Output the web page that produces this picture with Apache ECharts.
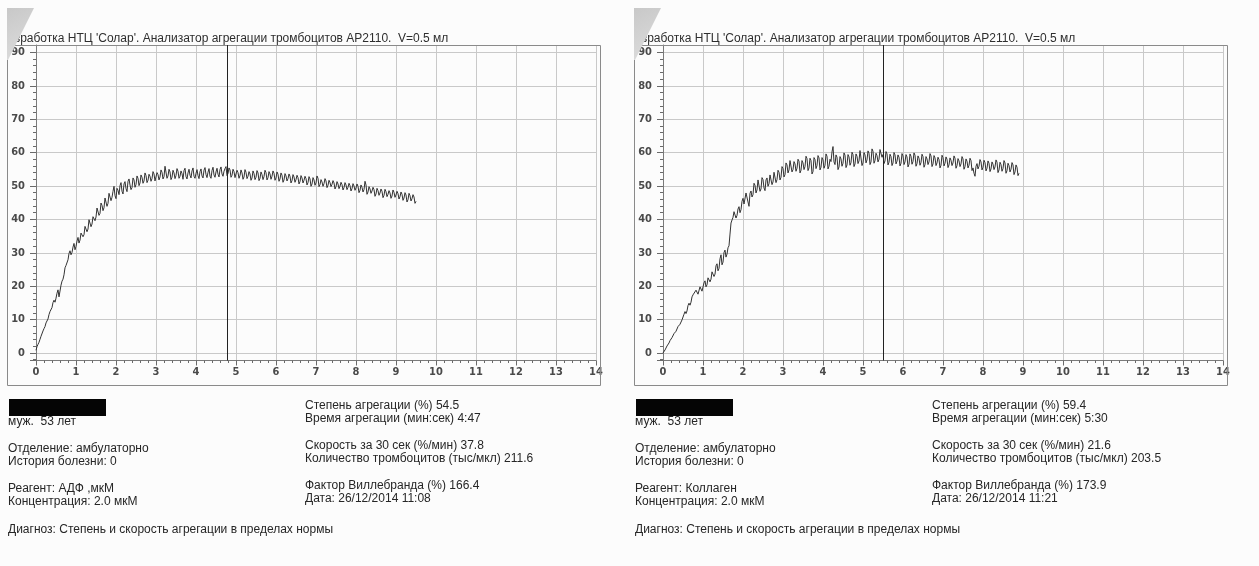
<!DOCTYPE html>
<html>
<head>
<meta charset="utf-8">
<title>Агрегация тромбоцитов AP2110</title>
<script src="https://cdn.jsdelivr.net/npm/echarts@6/dist/echarts.min.js"></script>
<style>
  html, body { margin: 0; padding: 0; background: #fcfcfc; }
  #chart { width: 1259px; height: 566px; }
</style>
</head>
<body>
<div id="chart"></div>
<script>
// Recorder sampling interval, minutes
const SAMPLE_STEP_MIN = 0.025;

// Aggregation curve with ADP (%), one value per sample
const adpValues = [
  0.8, 1.9, 2.6, 3.2, 4.1, 5.0, 5.5, 6.6, 7.3, 7.9, 9.0, 9.4, 10.2, 11.5, 12.4, 12.8, 13.6, 15.1, 15.8, 15.2,
  16.4, 17.9, 18.9, 16.8, 17.2, 20.3, 21.5, 22.1, 23.4, 25.5, 26.2, 26.6, 27.9, 29.8, 30.6, 29.4, 30.1, 31.7, 32.8, 30.9,
  31.9, 33.5, 34.6, 32.9, 33.8, 35.9, 36.2, 34.8, 35.4, 37.9, 37.6, 36.3, 37.1, 39.9, 39.4, 37.8, 38.6, 40.8, 41.3, 39.6,
  40.7, 43.4, 42.9, 41.2, 41.8, 44.9, 44.2, 42.6, 43.5, 46.4, 45.9, 43.9, 44.8, 47.8, 47.3, 45.6, 46.6, 48.4, 49.9, 47.1,
  46.2, 49.3, 48.7, 47.4, 50.1, 51.0, 48.4, 47.6, 50.6, 51.3, 49.2, 48.3, 51.4, 52.1, 50.3, 48.9, 49.5, 52.4, 51.8, 49.6,
  50.4, 53.0, 52.3, 50.1, 50.9, 53.3, 52.6, 50.8, 51.5, 53.9, 53.1, 51.0, 51.7, 53.5, 52.9, 51.4, 52.2, 54.3, 53.6, 51.5,
  52.0, 54.0, 53.4, 51.8, 52.7, 54.8, 54.1, 52.1, 52.8, 55.9, 55.4, 52.3, 53.0, 55.0, 54.2, 51.9, 52.6, 54.7, 53.9, 52.2,
  53.1, 55.2, 54.4, 52.3, 52.9, 54.5, 53.7, 52.0, 54.6, 55.3, 52.8, 52.1, 53.9, 55.0, 53.2, 52.4, 54.5, 55.4, 52.9, 52.3,
  53.8, 54.9, 53.1, 52.2, 54.3, 55.1, 53.0, 52.4, 54.7, 55.5, 53.4, 52.5, 54.1, 55.2, 52.9, 52.3, 54.6, 55.6, 53.3, 52.6,
  54.2, 55.3, 53.5, 52.7, 54.9, 55.7, 53.6, 52.9, 54.4, 55.2, 55.8, 53.1, 53.7, 55.4, 54.8, 52.6, 53.2, 55.0, 54.3, 52.5,
  52.8, 54.7, 54.0, 52.3, 53.1, 54.8, 53.9, 52.0, 52.7, 54.9, 54.1, 52.2, 52.9, 54.3, 53.6, 51.7, 52.4, 54.5, 53.7, 51.9,
  52.6, 54.6, 53.9, 51.6, 52.3, 54.2, 53.4, 51.9, 52.8, 54.7, 54.0, 51.8, 52.5, 54.3, 53.6, 52.0, 52.9, 54.5, 53.8, 51.7,
  52.4, 54.2, 53.5, 51.4, 52.1, 53.9, 53.2, 51.1, 51.8, 53.7, 53.0, 51.5, 52.2, 53.6, 52.9, 50.9, 51.6, 53.4, 52.7, 51.1,
  51.9, 53.2, 52.5, 50.6, 51.3, 53.1, 52.4, 50.9, 51.7, 52.9, 52.2, 50.3, 51.0, 52.8, 52.1, 49.9, 50.6, 52.5, 51.8, 50.2,
  50.9, 53.0, 52.3, 49.8, 50.4, 51.9, 51.2, 49.9, 50.7, 52.2, 51.5, 49.5, 50.2, 51.7, 51.0, 49.8, 50.5, 51.6, 50.9, 49.1,
  49.8, 51.3, 50.6, 49.2, 49.9, 51.1, 50.4, 48.8, 49.5, 51.0, 50.3, 48.9, 49.6, 50.8, 50.1, 48.5, 49.2, 50.7, 50.0, 48.7,
  49.4, 50.6, 49.9, 48.0, 48.7, 50.3, 49.6, 48.2, 48.9, 51.4, 50.3, 47.5, 48.2, 49.8, 49.1, 47.8, 48.5, 49.6, 48.9, 46.9,
  47.6, 49.3, 48.6, 47.2, 47.9, 49.1, 48.4, 46.5, 47.2, 49.0, 48.3, 46.8, 47.5, 48.6, 47.9, 46.3, 47.0, 48.8, 48.1, 46.6,
  47.3, 48.4, 47.7, 46.1, 46.8, 48.2, 47.5, 45.7, 46.4, 48.0, 47.3, 45.2, 45.9, 47.8, 47.1, 45.5, 46.2, 47.4, 46.7, 44.8,
  45.4
];

// Aggregation curve with collagen (%), one value per sample
const collagenValues = [
  0.0, 0.5, 0.9, 1.4, 2.1, 2.5, 3.0, 3.7, 4.2, 4.6, 5.1, 5.8, 6.3, 6.5, 7.0, 7.9, 8.4, 8.6, 9.1, 9.9,
  10.3, 11.6, 12.4, 11.8, 12.6, 14.2, 14.9, 14.3, 15.2, 16.8, 17.4, 16.9, 17.8, 18.8, 19.3, 17.6, 18.1, 19.8, 20.2, 18.5,
  19.0, 21.0, 21.6, 19.8, 20.4, 22.5, 22.9, 21.3, 22.1, 24.3, 24.8, 22.9, 23.6, 26.1, 26.7, 24.6, 25.3, 28.2, 29.4, 26.4,
  27.2, 30.1, 30.8, 28.7, 29.6, 31.5, 32.1, 35.6, 38.9, 39.8, 40.6, 42.3, 41.9, 40.4, 41.2, 43.1, 43.8, 42.0, 42.9, 45.4,
  46.3, 44.6, 45.1, 47.9, 47.6, 45.2, 43.9, 47.8, 48.5, 46.7, 47.4, 50.8, 50.2, 47.9, 48.8, 51.8, 51.3, 48.4, 49.1, 52.5,
  51.9, 49.4, 48.6, 51.8, 52.4, 49.9, 50.7, 53.3, 52.8, 50.4, 51.2, 54.1, 53.6, 51.0, 51.9, 54.7, 54.1, 51.8, 52.6, 55.8,
  55.2, 52.7, 53.4, 56.9, 56.3, 53.9, 54.8, 57.6, 57.1, 54.2, 54.9, 57.3, 56.6, 54.4, 55.3, 58.0, 57.4, 53.9, 54.7, 57.6,
  56.9, 54.9, 55.8, 58.9, 58.2, 54.6, 55.4, 58.3, 57.6, 53.6, 54.3, 58.5, 57.9, 55.2, 56.1, 59.1, 58.4, 54.8, 55.6, 58.5,
  57.8, 55.3, 56.2, 59.6, 58.9, 55.1, 55.9, 58.0, 57.3, 60.2, 61.8, 57.2, 56.4, 59.3, 58.6, 54.9, 55.7, 58.8, 58.1, 55.9,
  56.8, 59.9, 59.2, 55.5, 56.3, 59.4, 58.7, 56.2, 57.0, 60.1, 59.4, 55.8, 56.6, 59.6, 58.9, 56.7, 57.5, 60.6, 60.1, 56.1,
  56.9, 60.0, 59.3, 56.9, 57.8, 60.5, 59.8, 56.4, 57.2, 61.1, 60.4, 56.8, 57.6, 59.8, 59.1, 57.2, 58.0, 60.9, 61.2, 58.6,
  59.4, 56.7, 57.5, 60.3, 59.6, 56.3, 57.1, 59.5, 58.8, 56.1, 56.9, 60.0, 59.3, 56.6, 57.4, 59.3, 58.6, 56.0, 56.8, 59.7,
  59.0, 56.4, 57.2, 59.4, 58.7, 55.7, 56.5, 59.6, 58.9, 56.5, 57.3, 59.9, 59.2, 55.9, 56.7, 59.0, 58.3, 56.2, 57.0, 59.5,
  58.8, 55.6, 56.4, 58.8, 58.1, 56.4, 57.2, 59.7, 59.0, 55.8, 56.6, 59.1, 58.4, 56.1, 56.9, 58.6, 57.9, 55.4, 56.2, 59.2,
  58.5, 56.0, 56.8, 58.7, 58.0, 55.5, 56.3, 58.4, 57.7, 56.1, 56.9, 59.0, 58.3, 55.3, 56.1, 58.2, 57.5, 55.8, 56.6, 58.8,
  58.1, 55.0, 55.8, 58.1, 57.4, 55.4, 56.2, 58.3, 57.6, 54.6, 55.4, 53.8, 52.9, 55.9, 56.7, 55.1, 55.9, 57.9, 57.2, 54.8,
  55.6, 57.7, 57.0, 54.5, 55.3, 57.5, 56.8, 54.3, 55.1, 57.2, 56.5, 54.9, 55.7, 57.8, 57.1, 54.0, 54.8, 57.1, 56.4, 54.4,
  55.2, 57.6, 56.9, 53.8, 54.6, 56.8, 56.1, 54.2, 55.0, 57.0, 56.3, 53.4, 54.2, 56.3, 55.6, 53.1, 53.8
];

// Aggregation time (мин:сек) marked by the vertical cursor
const adpMarkerTime = '4:47';
const collagenMarkerTime = '5:30';

const headerText = "Разработка НТЦ 'Солар'. Анализатор агрегации тромбоцитов АР2110.  V=0.5 мл";

// Patient / sample block, left column
const adpPatientLines = [
  'муж.  53 лет',
  'Отделение: амбулаторно',
  'История болезни: 0',
  'Реагент: АДФ ,мкМ',
  'Концентрация: 2.0 мкМ',
  'Диагноз: Степень и скорость агрегации в пределах нормы'
];
const collagenPatientLines = [
  'муж.  53 лет',
  'Отделение: амбулаторно',
  'История болезни: 0',
  'Реагент: Коллаген',
  'Концентрация: 2.0 мкМ',
  'Диагноз: Степень и скорость агрегации в пределах нормы'
];

// Results block, right column
const adpResultLines = [
  'Степень агрегации (%) 54.5',
  'Время агрегации (мин:сек) ' + adpMarkerTime,
  'Скорость за 30 сек (%/мин) 37.8',
  'Количество тромбоцитов (тыс/мкл) 211.6',
  'Фактор Виллебранда (%) 166.4',
  'Дата: 26/12/2014 11:08'
];
const collagenResultLines = [
  'Степень агрегации (%) 59.4',
  'Время агрегации (мин:сек) ' + collagenMarkerTime,
  'Скорость за 30 сек (%/мин) 21.6',
  'Количество тромбоцитов (тыс/мкл) 203.5',
  'Фактор Виллебранда (%) 173.9',
  'Дата: 26/12/2014 11:21'
];

// ---------------------------------------------------------------
const TEXT_FONT = '12px "Liberation Sans", Arial, sans-serif';
const AXIS_FONT_FAMILY = '"Liberation Sans Narrow", "DejaVu Sans Condensed", "Liberation Sans", sans-serif';
const TEXT_COLOR = '#262626';

function toPairs(values) {
  return values.map((v, i) => [Math.round(i * SAMPLE_STEP_MIN * 1000) / 1000, v]);
}
function mmssToMinutes(s) {
  const parts = s.split(':').map(Number);
  return parts[0] + parts[1] / 60;
}

const grids = [], xAxes = [], yAxes = [], series = [], graphics = [];

function addPanel(idx, ox, values, markerTime, patientLines, resultLines) {
  grids.push({ left: ox + 36, top: 45, width: 560, height: 315.5, containLabel: false });

  xAxes.push({
    type: 'value', gridIndex: idx, min: 0, max: 14, interval: 1,
    axisLine: { show: true, onZero: false, lineStyle: { color: '#7a7a7a', width: 1 } },
    axisTick: { show: true, length: 5, lineStyle: { color: '#6a6a6a' } },
    minorTick: { show: true, splitNumber: 5, length: 2.5, lineStyle: { color: '#6a6a6a' } },
    splitLine: { show: true, lineStyle: { color: '#c9c9c9', width: 1 } },
    axisLabel: {
      margin: 6, fontSize: 11, fontWeight: 'bold', color: '#4a4a4a',
      fontFamily: AXIS_FONT_FAMILY
    }
  });

  yAxes.push({
    type: 'value', gridIndex: idx, min: -2.25, max: 92.2,
    splitNumber: 9, minInterval: 10, maxInterval: 10,
    axisLine: { show: true, lineStyle: { color: '#7a7a7a', width: 1 } },
    axisTick: { show: true, length: 6, lineStyle: { color: '#6a6a6a' } },
    minorTick: { show: true, splitNumber: 5, length: 3, lineStyle: { color: '#6a6a6a' } },
    splitLine: { show: true, lineStyle: { color: '#c9c9c9', width: 1 } },
    axisLabel: {
      margin: 11, fontSize: 11, fontWeight: 'bold', color: '#4a4a4a',
      fontFamily: AXIS_FONT_FAMILY, showMinLabel: false, showMaxLabel: false,
      formatter: v => (Math.abs(v % 10) < 1e-6 ? String(Math.round(v)) : '')
    }
  });

  series.push({
    type: 'line', xAxisIndex: idx, yAxisIndex: idx,
    data: toPairs(values),
    showSymbol: false, symbol: 'none', smooth: false,
    lineStyle: { color: '#333333', width: 1 },
    silent: true, animation: false,
    markLine: {
      silent: true, symbol: ['none', 'none'], animation: false,
      label: { show: false },
      lineStyle: { color: '#222222', width: 1, type: 'solid' },
      data: [{ xAxis: mmssToMinutes(markerTime) }]
    }
  });

  // printout frame
  graphics.push({
    type: 'rect', z: 5,
    shape: { x: ox + 7.5, y: 45.5, width: 593, height: 340 },
    style: { fill: 'none', stroke: '#8a8a8a', lineWidth: 1 }
  });

  // header line above the frame
  graphics.push({
    type: 'text', z: 10, x: ox + 0.5, y: 39,
    style: { text: headerText, font: TEXT_FONT, fill: '#2e2e2e', verticalAlign: 'middle' }
  });

  // folded page corner covering the start of the header
  graphics.push({
    type: 'rect', z: 60,
    shape: { x: ox - 21, y: 26, width: 28, height: 19 },
    style: { fill: '#fcfcfc' }
  });
  graphics.push({
    type: 'polygon', z: 61,
    shape: { points: [[ox + 7, 8], [ox + 34, 8], [ox + 8, 60], [ox + 7, 60]] },
    style: {
      fill: {
        type: 'linear', x: 0, y: 0, x2: 1, y2: 1,
        colorStops: [{ offset: 0, color: '#c8c8c8' }, { offset: 1, color: '#dedede' }]
      }
    }
  });

  // name field (blacked out)
  graphics.push({
    type: 'rect', z: 10,
    shape: { x: ox + 9, y: 399, width: 97, height: 17 },
    style: { fill: '#050505' }
  });

  const leftYs = [422, 448.5, 462, 488.5, 502, 530];
  patientLines.forEach((t, i) => graphics.push({
    type: 'text', z: 10, x: ox + 8, y: leftYs[i],
    style: { text: t, font: TEXT_FONT, fill: TEXT_COLOR, verticalAlign: 'middle' }
  }));

  const rightYs = [406, 419, 446, 459, 486, 499];
  resultLines.forEach((t, i) => graphics.push({
    type: 'text', z: 10, x: ox + 305, y: rightYs[i],
    style: { text: t, font: TEXT_FONT, fill: TEXT_COLOR, verticalAlign: 'middle' }
  }));
}

addPanel(0, 0, adpValues, adpMarkerTime, adpPatientLines, adpResultLines);
addPanel(1, 627, collagenValues, collagenMarkerTime, collagenPatientLines, collagenResultLines);

const chart = echarts.init(document.getElementById('chart'), null, { renderer: 'canvas' });
chart.setOption({
  backgroundColor: '#fcfcfc',
  animation: false,
  grid: grids,
  xAxis: xAxes,
  yAxis: yAxes,
  series: series,
  graphic: { elements: graphics }
});
</script>
</body>
</html>
